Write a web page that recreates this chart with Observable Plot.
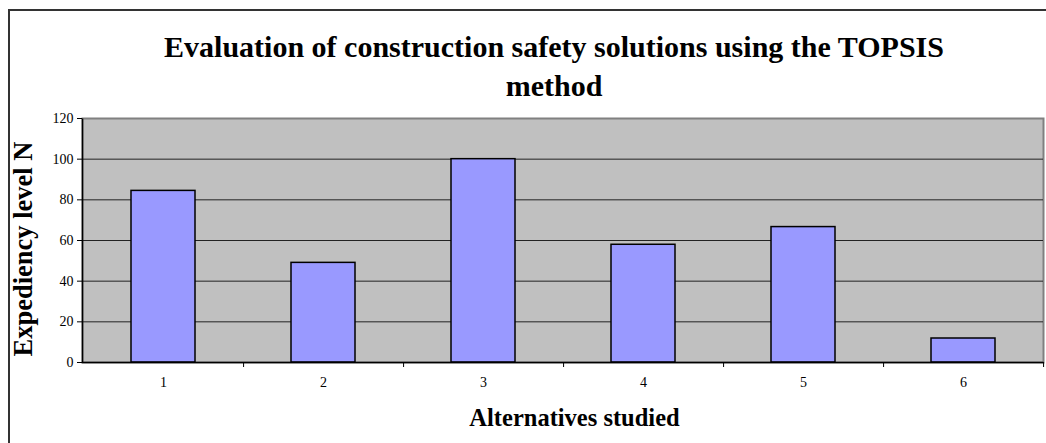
<!DOCTYPE html>
<html><head><meta charset="utf-8">
<script src="https://cdn.jsdelivr.net/npm/d3@7"></script>
<script src="https://cdn.jsdelivr.net/npm/@observablehq/plot@0.6"></script>
<style>
html,body{margin:0;padding:0;background:#fff;overflow:hidden;width:1046px;height:443px}
#box{position:absolute;left:8px;top:9px;width:1200px;height:600px;border:2px solid #333;box-sizing:border-box}
#chart{position:absolute;left:0;top:0;width:1046px}
#title{height:108px;box-sizing:border-box;padding-top:27px;padding-left:62px;text-align:center;font:bold 30px/39px "Liberation Serif","Times New Roman",serif;color:#000;white-space:nowrap}
#chart g[aria-label="y-axis tick label"], #chart g[aria-label="x-axis tick label"]{font-size:14px}
</style></head><body>
<div id="box"></div>
<div id="chart"><div id="title"></div></div>
<script>
const alternatives = ["1", "2", "3", "4", "5", "6"];
const expediency = [84.4, 49.0, 100, 57.9, 66.6, 11.8];
const yTicks = [0, 20, 40, 60, 80, 100, 120];
const titleLines = ["Evaluation of construction safety solutions using the TOPSIS", "method"];
const xLabel = "Alternatives studied";
const yLabel = "Expediency level N";

const titleEl = document.getElementById("title");
titleLines.forEach((t, i) => {
  if (i) titleEl.appendChild(document.createElement("br"));
  titleEl.appendChild(document.createTextNode(t));
});

const data = alternatives.map((a, i) => ({alt: a, value: expediency[i]}));

const W = 1046, H = 335, mL = 82, mR = 3, mT = 10, mB = 81;
const pw = W - mL - mR, ph = H - mT - mB;
const pInner = 0.6, pOuter = 0.3;
const step = pw / (alternatives.length - pInner + 2 * pOuter);

const plot = Plot.plot({
  width: W, height: H,
  marginLeft: mL, marginRight: mR, marginTop: mT, marginBottom: mB,
  style: {fontFamily: "'Liberation Serif','Times New Roman',serif", fontSize: "14px", color: "#000", background: "transparent", overflow: "visible"},
  x: {type: "band", domain: alternatives, paddingInner: pInner, paddingOuter: pOuter, axis: null, label: null},
  y: {domain: [0, 120], axis: null, label: null},
  marks: [
    Plot.frame({fill: "#c0c0c0", stroke: "#808080", strokeWidth: 2}),
    Plot.gridY(yTicks.filter(t => t > 0 && t < 120), {stroke: "#222", strokeOpacity: 1, strokeWidth: 1}),
    Plot.barY(data, {x: "alt", y: "value", fill: "#9999ff", stroke: "#000", strokeWidth: 1.5}),
    Plot.frame({stroke: "#000", strokeWidth: 1.5, strokeDasharray: `0,${pw + ph},${pw + ph}`}),
    Plot.axisY({ticks: yTicks, tickSize: 5, tickPadding: 4, fontSize: 14, label: null}),
    Plot.axisX({tickSize: 0, tickPadding: 15, fontSize: 14, label: null}),
    Plot.axisX({tickSize: 5, tickFormat: () => "", dx: step / 2, label: null}),
    Plot.text([xLabel], {text: d => d, frameAnchor: "bottom", dx: 11.5, dy: 63, fontSize: 24.5, fontWeight: "bold"}),
    Plot.text([yLabel], {text: d => d, frameAnchor: "bottom-left", rotate: -90, textAnchor: "start", dx: -50.5, dy: -6, fontSize: 26.5, fontWeight: "bold"})
  ]
});
document.getElementById("chart").appendChild(plot);
</script>
</body></html>
